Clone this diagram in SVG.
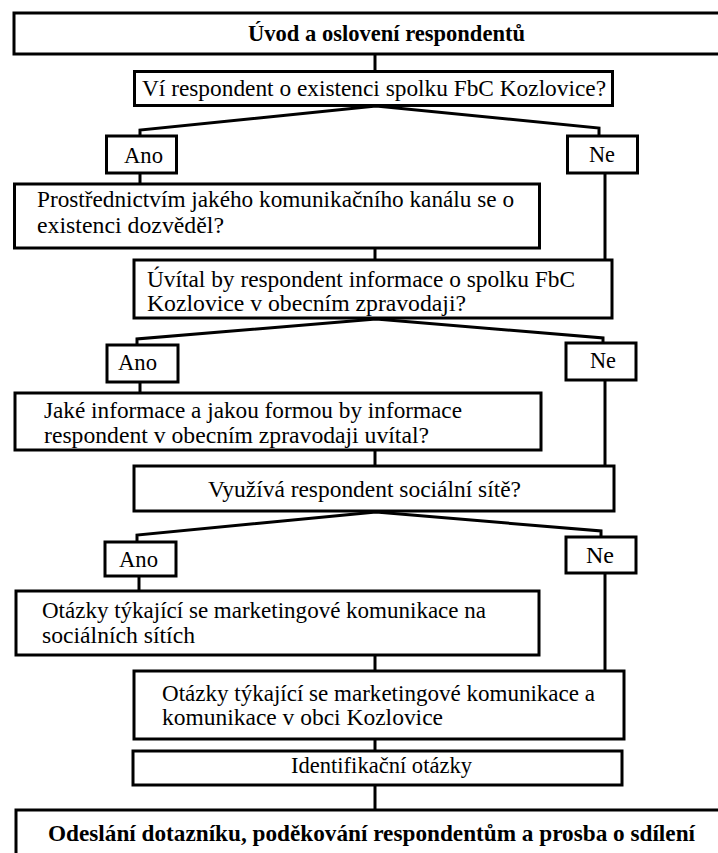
<svg xmlns="http://www.w3.org/2000/svg" width="718" height="853" viewBox="0 0 718 853">
<style>
  .box{fill:#fff;stroke:#000;stroke-width:3}
  .t{font-family:"Liberation Serif","Times New Roman",serif;font-size:24px;fill:#000}
  .b{font-weight:bold;font-size:23px}
  .con{fill:none;stroke:#000;stroke-width:3;stroke-linejoin:miter}
</style>
<rect width="718" height="853" fill="#fff"/>
<g id="connectors">
  <path class="con" d="M375,54V71"/>
  <path class="con" d="M140,136V130L376,106L599,128V136"/>
  <path class="con" d="M140,173V184"/>
  <path class="con" d="M605,173V260"/>
  <path class="con" d="M375,248V260"/>
  <path class="con" d="M137,345V339L376,319L603,338V343"/>
  <path class="con" d="M140,382V393"/>
  <path class="con" d="M605,380V466"/>
  <path class="con" d="M375,450V466"/>
  <path class="con" d="M137,542V535L376,512L601,531V537"/>
  <path class="con" d="M139,576V591"/>
  <path class="con" d="M605,573V671"/>
  <path class="con" d="M375,655V671"/>
  <path class="con" d="M375,739V751"/>
  <path class="con" d="M375,785V810"/>
</g>
<g id="n-uvod">
  <rect class="box" x="14" y="13" width="710" height="41"/>
  <text class="t b" x="248" y="41" textLength="277" lengthAdjust="spacingAndGlyphs">Úvod a oslovení respondentů</text>
</g>
<g id="n-q1">
  <rect class="box" x="134.5" y="71.5" width="478" height="34"/>
  <text class="t" x="142" y="96" textLength="464" lengthAdjust="spacingAndGlyphs">Ví respondent o existenci spolku FbC Kozlovice?</text>
</g>
<g id="n-ano1">
  <rect class="box" x="106.5" y="136" width="70" height="37"/>
  <text class="t" x="124" y="163" textLength="39" lengthAdjust="spacingAndGlyphs">Ano</text>
</g>
<g id="n-ne1">
  <rect class="box" x="567.5" y="136" width="70" height="37"/>
  <text class="t" x="589" y="162" textLength="26" lengthAdjust="spacingAndGlyphs">Ne</text>
</g>
<g id="n-kanal">
  <rect class="box" x="14.5" y="184" width="525" height="64"/>
  <text class="t" x="37" y="207" textLength="477" lengthAdjust="spacingAndGlyphs">Prostřednictvím jakého komunikačního kanálu se o</text>
  <text class="t" x="37" y="233" textLength="187" lengthAdjust="spacingAndGlyphs">existenci dozvěděl?</text>
</g>
<g id="n-q2">
  <rect class="box" x="134" y="260" width="478" height="58"/>
  <text class="t" x="147" y="287" textLength="428" lengthAdjust="spacingAndGlyphs">Úvítal by respondent informace o spolku FbC</text>
  <text class="t" x="147" y="311" textLength="319" lengthAdjust="spacingAndGlyphs">Kozlovice v obecním zpravodaji?</text>
</g>
<g id="n-ano2">
  <rect class="box" x="107" y="345" width="71" height="37"/>
  <text class="t" x="118" y="370" textLength="39" lengthAdjust="spacingAndGlyphs">Ano</text>
</g>
<g id="n-ne2">
  <rect class="box" x="566" y="343" width="70" height="37"/>
  <text class="t" x="590" y="368" textLength="26" lengthAdjust="spacingAndGlyphs">Ne</text>
</g>
<g id="n-jake">
  <rect class="box" x="15" y="393" width="526" height="57"/>
  <text class="t" x="44" y="418" textLength="418" lengthAdjust="spacingAndGlyphs">Jaké informace a jakou formou by informace</text>
  <text class="t" x="44" y="443" textLength="385" lengthAdjust="spacingAndGlyphs">respondent v obecním zpravodaji uvítal?</text>
</g>
<g id="n-q3">
  <rect class="box" x="134" y="466" width="480" height="45"/>
  <text class="t" x="208" y="497" textLength="313" lengthAdjust="spacingAndGlyphs">Využívá respondent sociální sítě?</text>
</g>
<g id="n-ano3">
  <rect class="box" x="105" y="542" width="71" height="34"/>
  <text class="t" x="119" y="567" textLength="39" lengthAdjust="spacingAndGlyphs">Ano</text>
</g>
<g id="n-ne3">
  <rect class="box" x="566" y="537" width="70" height="36"/>
  <text class="t" x="586" y="563" textLength="28" lengthAdjust="spacingAndGlyphs">Ne</text>
</g>
<g id="n-socsite">
  <rect class="box" x="16" y="591" width="523" height="64"/>
  <text class="t" x="42" y="618" textLength="444" lengthAdjust="spacingAndGlyphs">Otázky týkající se marketingové komunikace na</text>
  <text class="t" x="42" y="643" textLength="153" lengthAdjust="spacingAndGlyphs">sociálních sítích</text>
</g>
<g id="n-obec">
  <rect class="box" x="134" y="671" width="490" height="68"/>
  <text class="t" x="162" y="701" textLength="433" lengthAdjust="spacingAndGlyphs">Otázky týkající se marketingové komunikace a</text>
  <text class="t" x="162" y="725" textLength="281" lengthAdjust="spacingAndGlyphs">komunikace v obci Kozlovice</text>
</g>
<g id="n-ident">
  <rect class="box" x="133" y="751" width="489" height="34"/>
  <text class="t" x="291" y="773" textLength="181" lengthAdjust="spacingAndGlyphs">Identifikační otázky</text>
</g>
<g id="n-odeslani">
  <rect class="box" x="16" y="810" width="710" height="60"/>
  <text class="t b" x="48" y="841" textLength="647" lengthAdjust="spacingAndGlyphs">Odeslání dotazníku, poděkování respondentům a prosba o sdílení</text>
</g>
</svg>
